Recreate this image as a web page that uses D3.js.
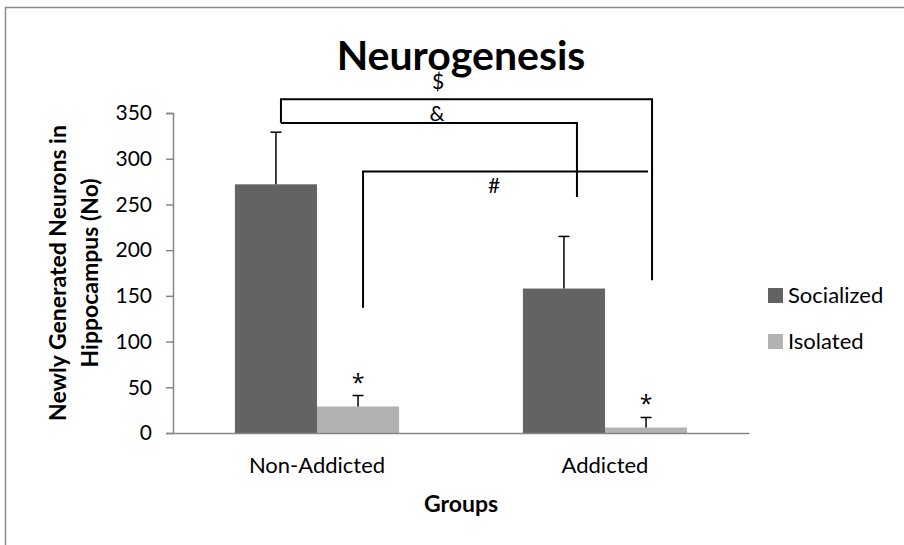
<!DOCTYPE html>
<html>
<head>
<meta charset="utf-8">
<script src="https://cdn.jsdelivr.net/npm/d3@7"></script>
<style>
  body { margin: 0; background: #fff; }
  text { font-family: Lato, "Open Sans", sans-serif; fill: #000; }
</style>
</head>
<body>
<script>
// chart values
var groups = ["Non-Addicted", "Addicted"];
var seriesNames = ["Socialized", "Isolated"];
var socialized = [272, 158];
var isolated = [29, 6];
var socializedErr = [57, 57];
var isolatedErr = [12, 11];
var yTicks = [0, 50, 100, 150, 200, 250, 300, 350];
var colors = ["#636363", "#b2b2b2"];

// significance brackets: points are [group, series, value], plus x nudge in px
var brackets = [
  { label: "$", lx: 438, ly: 365, pts: [[0, 0, 339, 5], [0, 0, 365, 5], [1, 1, 365, 6], [1, 1, 167, 6]] },
  { label: "&", lx: 437, ly: 339, pts: [[0, 0, 339, 5], [1, 0, 339, 13], [1, 0, 258, 13]] },
  { label: "#", lx: 494, ly: 286, pts: [[0, 1, 137, 5], [0, 1, 286, 5], [1, 1, 286, 2]] }
];

var width = 904, height = 545;
var mLeft = 173, mRight = 749, mTop = 113, mBottom = 433;

var svg = d3.select("body").append("svg")
  .attr("width", width)
  .attr("height", height);

// outer frame (cut at right/bottom)
svg.append("rect")
  .attr("x", 5.5).attr("y", 7.5)
  .attr("width", 960).attr("height", 600)
  .attr("fill", "none")
  .attr("stroke", "#8c8c8c")
  .attr("stroke-width", 1.5);

var x0 = d3.scaleBand().domain(groups).range([mLeft, mRight]).paddingInner(0.43).paddingOuter(0.215);
var x1 = d3.scaleBand().domain(seriesNames).range([0, x0.bandwidth()]);
var y = d3.scaleLinear().domain([0, 350]).range([mBottom, mTop]);

var rows = [];
groups.forEach(function(g, i) {
  rows.push({ g: g, s: seriesNames[0], v: socialized[i], e: socializedErr[i], c: colors[0] });
  rows.push({ g: g, s: seriesNames[1], v: isolated[i], e: isolatedErr[i], c: colors[1] });
});

function cx(gi, si) {
  return x0(groups[gi]) + x1(seriesNames[si]) + x1.bandwidth() / 2;
}
function mid(d) {
  return x0(d.g) + x1(d.s) + x1.bandwidth() / 2;
}

// bars
svg.selectAll("rect.bar").data(rows).enter().append("rect")
  .attr("class", "bar")
  .attr("x", function(d) { return x0(d.g) + x1(d.s); })
  .attr("y", function(d) { return y(d.v); })
  .attr("width", x1.bandwidth())
  .attr("height", function(d) { return mBottom - y(d.v); })
  .attr("fill", function(d) { return d.c; });

// error bars (upper only)
var eb = svg.selectAll("g.err").data(rows).enter().append("g")
  .attr("class", "err")
  .attr("stroke", "#000")
  .attr("stroke-width", 1.5);
eb.append("line")
  .attr("x1", mid).attr("x2", mid)
  .attr("y1", function(d) { return y(d.v); })
  .attr("y2", function(d) { return y(d.v + d.e); });
eb.append("line")
  .attr("x1", function(d) { return mid(d) - 5.5; })
  .attr("x2", function(d) { return mid(d) + 5.5; })
  .attr("y1", function(d) { return y(d.v + d.e); })
  .attr("y2", function(d) { return y(d.v + d.e); });

// asterisks over isolated bars
svg.selectAll("text.star").data(rows.filter(function(d) { return d.s === "Isolated"; }))
  .enter().append("text")
  .attr("class", "star")
  .attr("x", mid)
  .attr("y", function(d) { return y(d.v + d.e) - 5; })
  .attr("text-anchor", "middle")
  .style("font-family", "'Open Sans', sans-serif")
  .style("font-size", "23px")
  .text("*");

// axes
var yAxis = svg.append("g")
  .attr("transform", "translate(" + mLeft + ",0)")
  .call(d3.axisLeft(y).tickValues(yTicks).tickSize(7).tickPadding(14));
yAxis.select(".domain").attr("stroke", "#868686").attr("stroke-width", 1.5);
yAxis.selectAll(".tick line").attr("stroke", "#868686").attr("stroke-width", 1.5);
yAxis.selectAll(".tick text").style("font-size", "21px").style("font-family", "Lato, sans-serif").attr("fill", "#000");

var xAxis = svg.append("g")
  .attr("transform", "translate(0," + mBottom + ")")
  .call(d3.axisBottom(x0).tickSize(0).tickPadding(24));
xAxis.select(".domain").attr("stroke", "#868686").attr("stroke-width", 1.5);
xAxis.selectAll(".tick text").style("font-size", "22px").style("font-family", "Lato, sans-serif").attr("fill", "#000");

// brackets
var bracketLine = d3.line()
  .x(function(p) { return cx(p[0], p[1]) + p[3]; })
  .y(function(p) { return y(p[2]); });
svg.selectAll("path.bracket").data(brackets).enter().append("path")
  .attr("class", "bracket")
  .attr("d", function(b) { return bracketLine(b.pts); })
  .attr("fill", "none")
  .attr("stroke", "#000")
  .attr("stroke-width", 2);
svg.selectAll("text.blabel").data(brackets).enter().append("text")
  .attr("class", "blabel")
  .attr("x", function(b) { return b.lx; })
  .attr("y", function(b) {
    if (b.label === "$") return y(b.ly) - 10;
    if (b.label === "&") return y(b.ly) - 2;
    return y(b.ly) + 21;
  })
  .attr("text-anchor", "middle")
  .style("font-size", "21px")
  .text(function(b) { return b.label; });

// title and axis titles
svg.append("text").attr("x", 461).attr("y", 70).attr("text-anchor", "middle")
  .style("font-size", "41px").style("font-weight", "bold").text("Neurogenesis");
svg.append("text").attr("x", 461).attr("y", 512).attr("text-anchor", "middle")
  .style("font-size", "23px").style("font-weight", "bold").text("Groups");
var yt = svg.append("text").attr("transform", "translate(0,273) rotate(-90)")
  .attr("text-anchor", "middle").style("font-size", "23px").style("font-weight", "bold");
yt.append("tspan").attr("x", 0).attr("y", 66).text("Newly Generated Neurons in");
yt.append("tspan").attr("x", 0).attr("y", 98).text("Hippocampus (No)");

// legend
var leg = svg.selectAll("g.leg").data(seriesNames).enter().append("g")
  .attr("class", "leg")
  .attr("transform", function(d, i) { return "translate(768," + (288 + i * 46) + ")"; });
leg.append("rect").attr("width", 15).attr("height", 15).attr("fill", function(d, i) { return colors[i]; });
leg.append("text").attr("x", 20).attr("y", 15).style("font-size", "22px").text(function(d) { return d; });
</script>
</body>
</html>
